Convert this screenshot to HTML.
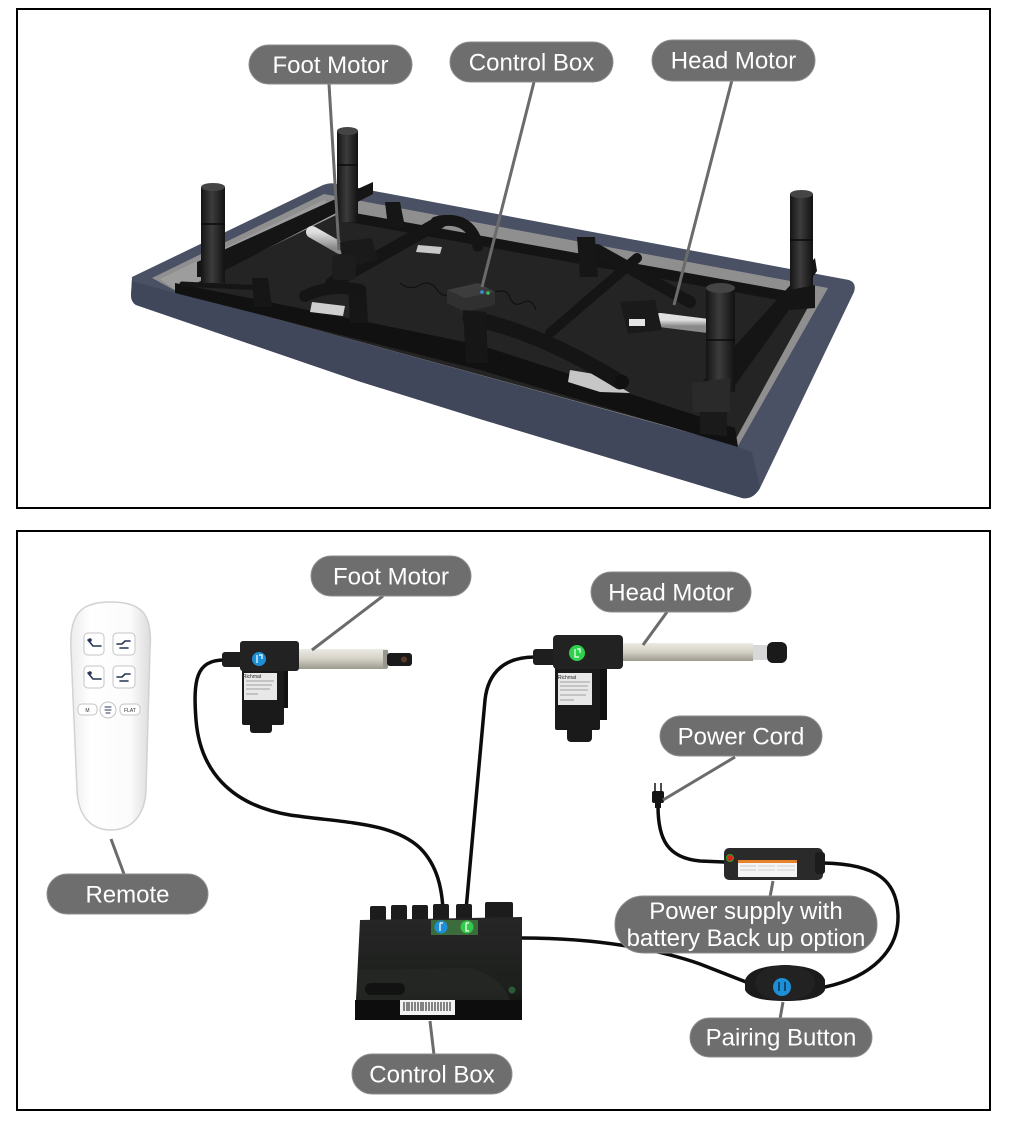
<!DOCTYPE html>
<html><head><meta charset="utf-8"><style>
html,body{margin:0;padding:0;background:#fff;}
svg{display:block;}
.lb{font-family:"Liberation Sans",Arial,sans-serif;font-size:24px;fill:#fff;text-anchor:middle;}
.pill{fill:#6e6e6e;stroke:#8c8c8c;stroke-width:1;}
.ld{stroke:#6b6b6b;stroke-width:3;fill:none;}
.cab{stroke:#0c0c0c;stroke-width:3.5;fill:none;stroke-linecap:round;}
.bar{stroke:#151515;fill:none;stroke-linecap:round;}
</style></head><body>
<svg width="1010" height="1121" viewBox="0 0 1010 1121" xmlns="http://www.w3.org/2000/svg">
<defs>
<linearGradient id="rod" x1="0" y1="0" x2="0" y2="1"><stop offset="0" stop-color="#ecebe4"/><stop offset="0.5" stop-color="#d3d0c6"/><stop offset="1" stop-color="#9c998f"/></linearGradient>
<linearGradient id="leg" x1="0" y1="0" x2="1" y2="0"><stop offset="0" stop-color="#151515"/><stop offset="0.45" stop-color="#3c3c3c"/><stop offset="1" stop-color="#121212"/></linearGradient>
<linearGradient id="rem" x1="0" y1="0" x2="1" y2="0"><stop offset="0" stop-color="#ececec"/><stop offset="0.25" stop-color="#ffffff"/><stop offset="0.75" stop-color="#fbfbfb"/><stop offset="1" stop-color="#dcdcdc"/></linearGradient>
<linearGradient id="silv" x1="0" y1="0" x2="0" y2="1"><stop offset="0" stop-color="#e0e0e0"/><stop offset="1" stop-color="#8a8a8a"/></linearGradient>
<linearGradient id="box" x1="0" y1="0" x2="0" y2="1"><stop offset="0" stop-color="#262626"/><stop offset="0.7" stop-color="#1c1f1c"/><stop offset="1" stop-color="#0a0a0a"/></linearGradient>
</defs>

<!-- panel borders -->
<rect x="17" y="9" width="973" height="499" fill="none" stroke="#000" stroke-width="2"/>
<rect x="17" y="531" width="973" height="579" fill="none" stroke="#000" stroke-width="2"/>

<!-- ================= TOP: BED ================= -->
<!-- upholstery silhouette (top surface) -->
<path d="M132,277 L323,185 Q330,182 337,184 L849,280 Q857,283 854,292 L760,488 Q753,500 742,498 L480,419 L358,381 L136,305 Q131,302 131,295 Z" fill="#4b5165"/>
<!-- front face -->
<path d="M132,281 L175,293 L480,370 L735,446 L752,452 L760,488 Q753,500 742,498 L480,419 L358,381 L136,305 Q131,302 131,295 Z" fill="#41475a"/>
<!-- inner opening lining -->
<path d="M152,278 L324,194 L828,288 L738,446 L178,292 Z" fill="#8f8f8f"/>
<path d="M160,279 L324,200 L338,214 L178,292 Z" fill="#9d9d9d"/>
<!-- carpet -->
<path d="M178,292 L338,214 L812,300 L733,444 Z" fill="#242424"/>
<!-- far rail -->
<path d="M338,210 L810,295 L806,305 L338,220 Z" fill="#141414"/>
<!-- near rail -->
<path d="M175,283 L480,345 L735,428 L738,447 L480,370 L175,293 Z" fill="#111"/>
<!-- right rail -->
<path d="M693,392 L815,258 L817,271 L716,412 L693,410 Z" fill="#151515"/>
<path d="M700,410 L727,410 L727,436 L700,434 Z" fill="#1a1a1a"/>
<!-- left cross rail -->
<path d="M197,262 L373,182 L373,194 L212,277 L197,277 Z" fill="#151515"/>

<!-- silver plates -->
<path d="M418,245 L442,247 L440,254 L416,252 Z" fill="#c9c9c9"/>
<path d="M312,302 L345,306 L343,316 L310,312 Z" fill="#cfcfcf"/>
<path d="M570,370 L600,375 L630,393 L600,392 L568,382 Z" fill="#c6c6c6"/>

<!-- foot end mechanism -->
<path d="M182,284 L262,288" class="bar" stroke-width="5"/>
<path d="M252,278 L268,278 L272,307 L254,307 Z" fill="#161616"/>
<path d="M348,287 L366,287 L368,323 L350,323 Z" fill="#161616"/>
<path d="M385,202 L400,202 L405,227 L388,227 Z" fill="#161616"/>
<path d="M305,296 Q330,284 360,290" class="bar" stroke-width="12"/>
<path d="M332,283 L440,222" class="bar" stroke-width="13"/>
<path d="M436,222 Q470,214 478,246" class="bar" stroke-width="11"/>
<!-- foot motor (top) -->
<path d="M312,232 L340,248" stroke="url(#silv)" stroke-width="12" stroke-linecap="round"/>
<path d="M338,242 L372,238 L378,260 L346,268 Z" fill="#1a1a1a"/>
<rect x="332" y="255" width="24" height="25" rx="5" fill="#1d1d1d"/>

<!-- control box (top) -->
<path d="M400,283 q10,8 20,2 q10,-6 18,6 q5,6 9,4" stroke="#111" stroke-width="1.2" fill="none"/>
<path d="M495,292 q12,-4 15,6 q4,10 14,4 q8,-4 12,8" stroke="#111" stroke-width="1.2" fill="none"/>
<path d="M447,290 L478,283 L495,292 L495,305 L465,312 L447,303 Z" fill="#303030"/>
<path d="M447,290 L478,283 L495,292 L465,298 Z" fill="#3d3d3d"/>
<circle cx="482" cy="292" r="1.8" fill="#3a8fe0"/>
<circle cx="488" cy="293" r="1.8" fill="#3ac060"/>

<!-- head end mechanism -->
<path d="M550,333 L637,258" class="bar" stroke-width="10"/>
<path d="M597,250 L690,302" class="bar" stroke-width="12"/>
<path d="M577,237 L595,237 L598,277 L580,277 Z" fill="#161616"/>
<path d="M470,318 Q540,332 620,382" class="bar" stroke-width="15"/>
<path d="M463,310 L486,312 L488,363 L466,363 Z" fill="#161616"/>
<circle cx="622" cy="382" r="7" fill="#101010"/>
<path d="M660,320 L708,326" stroke="url(#silv)" stroke-width="14" stroke-linecap="round"/>
<path d="M620,302 L655,300 L662,330 L628,334 Z" fill="#1a1a1a"/>
<rect x="629" y="319" width="16" height="7" fill="#e5e5e5"/>

<!-- legs -->
<g>
<rect x="201" y="187" width="24" height="96" fill="url(#leg)"/>
<ellipse cx="213" cy="187" rx="12" ry="4" fill="#454545"/>
<line x1="201" y1="224" x2="225" y2="224" stroke="#0a0a0a" stroke-width="1.5"/>
<rect x="337" y="131" width="21" height="91" fill="url(#leg)"/>
<ellipse cx="347.5" cy="131" rx="10.5" ry="4" fill="#454545"/>
<line x1="337" y1="165" x2="358" y2="165" stroke="#0a0a0a" stroke-width="1.5"/>
<rect x="790" y="194" width="23" height="114" fill="url(#leg)"/>
<ellipse cx="801.5" cy="194" rx="11.5" ry="4" fill="#454545"/>
<line x1="790" y1="240" x2="813" y2="240" stroke="#0a0a0a" stroke-width="1.5"/>
<path d="M790,290 L815,285 L815,308 L790,310 Z" fill="#151515"/>
<rect x="706" y="288" width="29" height="104" fill="url(#leg)"/>
<ellipse cx="720.5" cy="288" rx="14.5" ry="5" fill="#454545"/>
<line x1="706" y1="340" x2="735" y2="340" stroke="#0a0a0a" stroke-width="1.5"/>
<path d="M692,383 L730,378 L730,412 L693,412 Z" fill="#2a2a2a"/>
</g>

<!-- top leader lines -->
<line class="ld" x1="329" y1="84" x2="339" y2="250"/>
<line class="ld" x1="534" y1="82" x2="482" y2="287"/>
<line class="ld" x1="732" y1="80" x2="674" y2="305"/>

<!-- top pills -->
<rect class="pill" x="249" y="45" width="163" height="39" rx="19.5"/>
<text class="lb" x="330.5" y="73">Foot Motor</text>
<rect class="pill" x="450" y="42" width="163" height="40" rx="20"/>
<text class="lb" x="531.5" y="70.5">Control Box</text>
<rect class="pill" x="652" y="40" width="163" height="41" rx="20.5"/>
<text class="lb" x="733.5" y="68.5">Head Motor</text>

<!-- ================= BOTTOM ================= -->
<!-- remote -->
<path d="M111,602 C141,602 153,613 150,650 L146,790 C145,816 131,830 111,830 C91,830 78,816 77,790 L71,650 C69,613 81,602 111,602 Z" fill="url(#rem)" stroke="#d2d2d2" stroke-width="1.5"/>
<g fill="#fff" stroke="#c4c4c4" stroke-width="1">
<rect x="84" y="633" width="20" height="22" rx="4"/>
<rect x="113" y="633" width="22" height="22" rx="4"/>
<rect x="84" y="666" width="20" height="22" rx="4"/>
<rect x="113" y="666" width="22" height="22" rx="4"/>
<rect x="78" y="704" width="19" height="11" rx="4"/>
<circle cx="108" cy="710" r="8"/>
<rect x="120" y="704" width="20" height="11" rx="4"/>
</g>
<g stroke="#243552" stroke-width="1.6" fill="none" stroke-linecap="round">
<path d="M88,640 l5,6 h8"/><circle cx="90" cy="640" r="1" fill="#243552"/>
<path d="M117,644 h5 l3,-3 h5 M120,648 h8"/>
<path d="M88,673 l5,6 h8"/><circle cx="90" cy="673" r="1" fill="#243552"/>
<path d="M117,677 h5 l3,-3 h5 M120,681 h8"/>
<path d="M105,707 h6 M105,710 h6 M106,713 h4" stroke-width="1"/>
</g>
<text x="87.5" y="712" font-family="Liberation Sans,sans-serif" font-size="5" fill="#333" text-anchor="middle">M</text>
<text x="130" y="712" font-family="Liberation Sans,sans-serif" font-size="5" fill="#333" text-anchor="middle">FLAT</text>

<!-- cables -->
<path class="cab" d="M224,660 C196,660 193,680 196,720 C200,770 230,805 290,815 C345,823 392,822 420,848 C438,866 442,890 443,910"/>
<path class="cab" d="M535,657 C505,657 488,672 485,700 L475,810 L466,910"/>
<path class="cab" d="M522,938 C600,938 660,950 700,964 L746,982"/>
<path class="cab" d="M825,987 C872,977 899,950 898,915 C897,880 876,864 823,863"/>
<path class="cab" d="M658,806 C658,840 668,858 700,861 L724,862"/>

<!-- foot actuator -->
<rect x="298" y="649" width="89" height="20" fill="url(#rod)"/>
<rect x="383" y="650" width="5" height="18" fill="#9a978e"/>
<rect x="387" y="653" width="25" height="13" rx="3" fill="#1a1a1a"/>
<circle cx="404" cy="659.5" r="3" fill="#5a3a28"/>
<rect x="222" y="652" width="22" height="15" rx="3" fill="#1e1e1e"/>
<rect x="280" y="668" width="8" height="40" fill="#111"/>
<rect x="242" y="666" width="42" height="59" rx="2" fill="#1a1a1a"/>
<rect x="240" y="641" width="59" height="30" rx="3" fill="#222"/>
<rect x="250" y="720" width="22" height="13" rx="3" fill="#1a1a1a"/>
<rect x="244" y="673" width="33" height="27" fill="#e8e8e8"/>
<g stroke="#888" stroke-width="0.8"><line x1="246" y1="681" x2="274" y2="681"/><line x1="246" y1="685" x2="272" y2="685"/><line x1="246" y1="689" x2="270" y2="689"/><line x1="246" y1="694" x2="258" y2="694"/></g>
<text x="252" y="678" font-family="Liberation Sans,sans-serif" font-size="5" fill="#222" text-anchor="middle">Richmat</text>
<circle cx="259" cy="659" r="7" fill="#1d8fd6"/>
<path d="M257,655 v8 M259,655 h3 v4" stroke="#fff" stroke-width="1.2" fill="none"/>

<!-- head actuator -->
<rect x="623" y="643" width="130" height="18" fill="url(#rod)"/>
<rect x="753" y="645" width="14" height="15" fill="#d8d8d8"/>
<rect x="767" y="642" width="20" height="21" rx="6" fill="#1a1a1a"/>
<rect x="533" y="649" width="23" height="16" rx="3" fill="#1e1e1e"/>
<rect x="597" y="668" width="10" height="52" fill="#111"/>
<rect x="555" y="666" width="45" height="64" rx="2" fill="#1a1a1a"/>
<rect x="553" y="635" width="70" height="34" rx="4" fill="#222"/>
<rect x="567" y="726" width="25" height="16" rx="4" fill="#1a1a1a"/>
<rect x="558" y="673" width="34" height="32" fill="#e8e8e8"/>
<g stroke="#888" stroke-width="0.8"><line x1="560" y1="682" x2="590" y2="682"/><line x1="560" y1="686" x2="588" y2="686"/><line x1="560" y1="690" x2="588" y2="690"/><line x1="560" y1="695" x2="586" y2="695"/><line x1="560" y1="700" x2="574" y2="700"/></g>
<text x="567" y="679" font-family="Liberation Sans,sans-serif" font-size="5" fill="#222" text-anchor="middle">Richmat</text>
<circle cx="577" cy="653" r="8" fill="#2ed14a"/>
<path d="M575,649 v8 h4 M577,649 h3 v4" stroke="#fff" stroke-width="1.2" fill="none"/>

<!-- plug -->
<line x1="655" y1="783" x2="655" y2="792" stroke="#111" stroke-width="1.5"/>
<line x1="661" y1="783" x2="661" y2="792" stroke="#111" stroke-width="1.5"/>
<rect x="652" y="791" width="12" height="12" rx="2" fill="#151515"/>
<rect x="655" y="802" width="6" height="6" fill="#151515"/>

<!-- power supply -->
<rect x="724" y="848" width="99" height="32" rx="5" fill="#2a2a2a"/>
<rect x="815" y="852" width="10" height="22" rx="3" fill="#1c1c1c"/>
<rect x="738" y="860" width="59" height="17" fill="#f4f4f4"/>
<rect x="738" y="860" width="59" height="3" fill="#e8822a"/>
<g stroke="#aaa" stroke-width="0.6"><line x1="740" y1="866" x2="756" y2="866"/><line x1="758" y1="866" x2="775" y2="866"/><line x1="777" y1="866" x2="795" y2="866"/><line x1="740" y1="870" x2="756" y2="870"/><line x1="758" y1="870" x2="775" y2="870"/><line x1="777" y1="870" x2="795" y2="870"/></g>
<circle cx="730" cy="858" r="3.5" fill="#d22" stroke="#2a2" stroke-width="1"/>

<!-- control box -->
<g fill="#1c1c1c">
<rect x="370" y="906" width="16" height="16" rx="2"/>
<rect x="391" y="905" width="16" height="17" rx="2"/>
<rect x="412" y="905" width="16" height="17" rx="2"/>
<rect x="433" y="904" width="16" height="18" rx="2"/>
<rect x="456" y="904" width="16" height="18" rx="2"/>
<rect x="485" y="902" width="28" height="20" rx="2"/>
</g>
<path d="M360,920 L522,917 L522,1020 L355,1020 Z" fill="url(#box)"/>
<path d="M358,970 L470,968 Q500,975 510,1000 L356,1000 Z" fill="#262a26" opacity="0.7"/>
<rect x="365" y="983" width="40" height="12" rx="6" fill="#121212"/>
<rect x="355" y="1000" width="167" height="20" fill="#0d0d0d"/>
<rect x="431" y="920" width="47" height="15" fill="#3c6b3c"/>
<circle cx="441" cy="927" r="6.5" fill="#1d8fd6"/>
<circle cx="467" cy="927" r="6.5" fill="#34c84a"/>
<path d="M440,923 v8 M440,923 h3" stroke="#fff" stroke-width="1.2" fill="none"/>
<path d="M466,923 v8 h3 M466,923 h3" stroke="#fff" stroke-width="1.2" fill="none"/>
<circle cx="512" cy="990" r="3.5" fill="#2c5a38"/>
<rect x="400" y="1000" width="55" height="15" fill="#f2f2f2"/>
<g stroke="#111" stroke-width="1">
<line x1="404" y1="1002" x2="404" y2="1011"/><line x1="407" y1="1002" x2="407" y2="1011"/><line x1="409" y1="1002" x2="409" y2="1011"/><line x1="412" y1="1002" x2="412" y2="1011"/><line x1="415" y1="1002" x2="415" y2="1011"/><line x1="418" y1="1002" x2="418" y2="1011"/><line x1="421" y1="1002" x2="421" y2="1011"/><line x1="423" y1="1002" x2="423" y2="1011"/><line x1="426" y1="1002" x2="426" y2="1011"/><line x1="429" y1="1002" x2="429" y2="1011"/><line x1="432" y1="1002" x2="432" y2="1011"/><line x1="435" y1="1002" x2="435" y2="1011"/><line x1="438" y1="1002" x2="438" y2="1011"/><line x1="441" y1="1002" x2="441" y2="1011"/><line x1="444" y1="1002" x2="444" y2="1011"/><line x1="447" y1="1002" x2="447" y2="1011"/><line x1="450" y1="1002" x2="450" y2="1011"/>
</g>

<!-- pairing button -->
<path d="M745,980 Q750,966 785,965 Q820,966 825,980 L825,990 Q820,1001 785,1001 Q750,1001 745,990 Z" fill="#1b1b1b"/>
<ellipse cx="785" cy="983" rx="30" ry="18" fill="#222"/>
<circle cx="782" cy="987" r="9" fill="#1d8fd6"/>
<path d="M779,982 v9 M785,982 v9" stroke="#0d2a45" stroke-width="1.4"/>

<!-- bottom leader lines -->
<line class="ld" x1="383" y1="596" x2="312" y2="650"/>
<line class="ld" x1="667" y1="612" x2="643" y2="645"/>
<line class="ld" x1="735" y1="757" x2="663" y2="800"/>
<line class="ld" x1="111" y1="839" x2="124" y2="874"/>
<line class="ld" x1="773" y1="881" x2="770" y2="897"/>
<line class="ld" x1="783" y1="1002" x2="780" y2="1019"/>
<line class="ld" x1="430" y1="1021" x2="434" y2="1055"/>

<!-- bottom pills -->
<rect class="pill" x="311" y="556" width="160" height="40" rx="20"/>
<text class="lb" x="391" y="584.5">Foot Motor</text>
<rect class="pill" x="591" y="572" width="160" height="40" rx="20"/>
<text class="lb" x="671" y="600.5">Head Motor</text>
<rect class="pill" x="660" y="716" width="162" height="40" rx="20"/>
<text class="lb" x="741" y="744.5">Power Cord</text>
<rect class="pill" x="47" y="874" width="161" height="40" rx="20"/>
<text class="lb" x="127.5" y="902.5">Remote</text>
<rect class="pill" x="615" y="896" width="262" height="57" rx="28"/>
<text class="lb" x="746" y="919">Power supply with</text>
<text class="lb" x="746" y="946">battery Back up option</text>
<rect class="pill" x="690" y="1018" width="182" height="39" rx="19.5"/>
<text class="lb" x="781" y="1045.5">Pairing Button</text>
<rect class="pill" x="352" y="1054" width="160" height="40" rx="20"/>
<text class="lb" x="432" y="1082.5">Control Box</text>
</svg>
</body></html>
